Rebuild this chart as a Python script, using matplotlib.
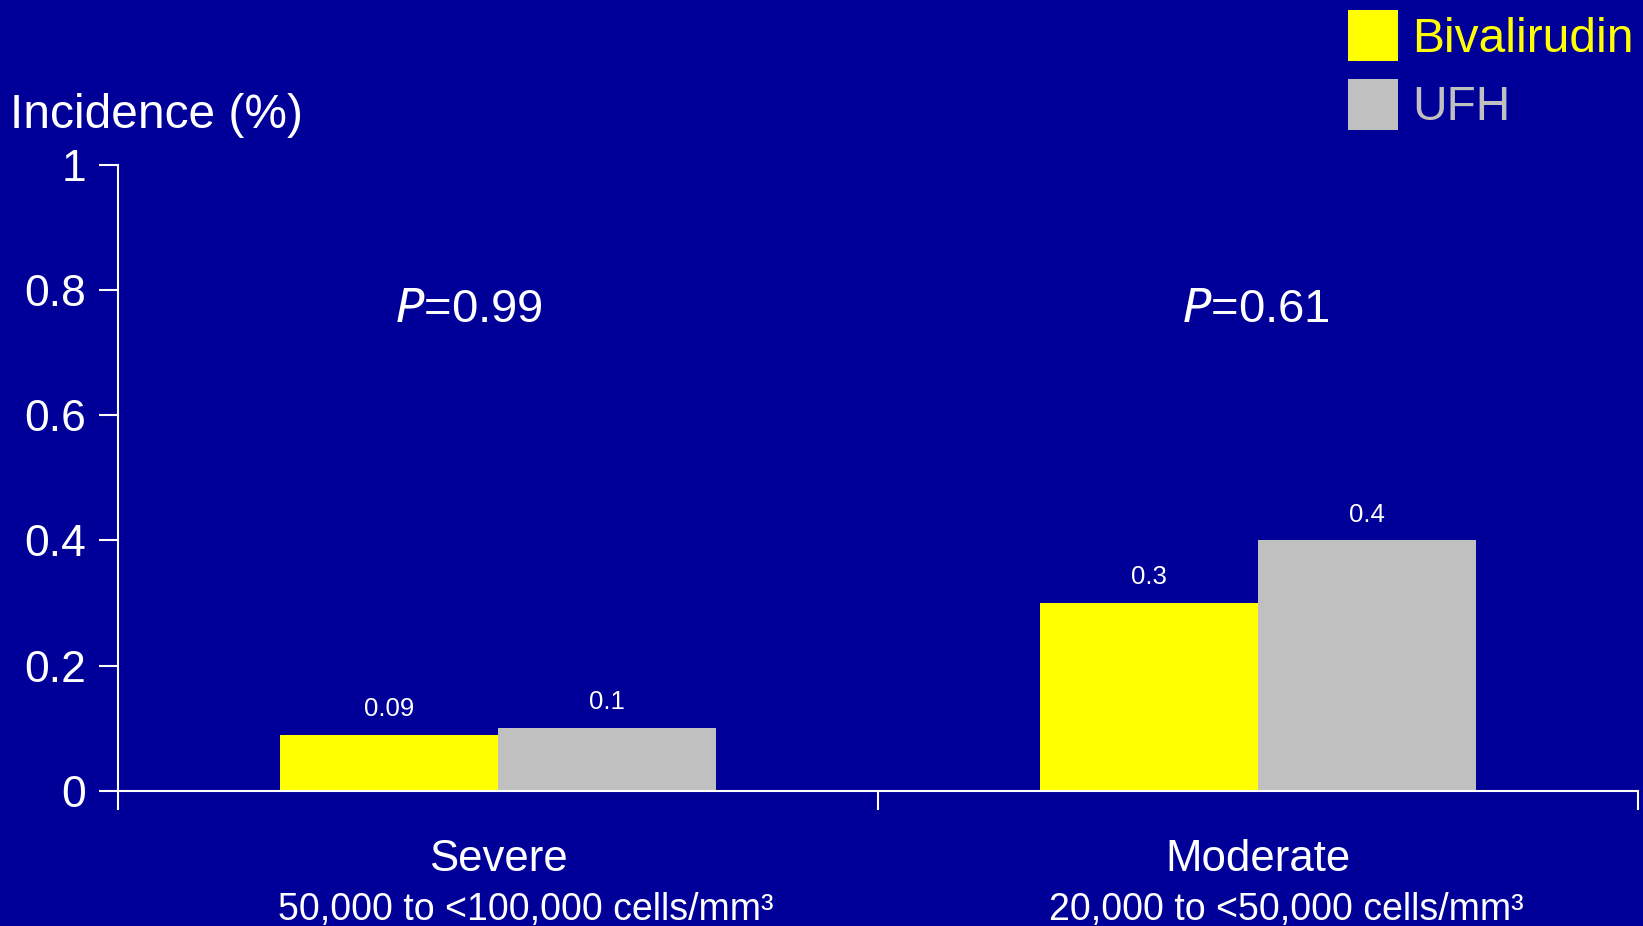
#!/usr/bin/env python

import numpy as np
import matplotlib
matplotlib.use("Agg")
import matplotlib.pyplot as plt

# Data
categories = ["Severe", "Moderate"]
subtitles = ["50,000 to <100,000 cells/mm³", "20,000 to <50,000 cells/mm³"]
bivalirudin = [0.09, 0.3]
ufh = [0.1, 0.4]
p_values = ["0.99", "0.61"]
yticks = [0, 0.2, 0.4, 0.6, 0.8, 1]
ytick_labels = ["0", "0.2", "0.4", "0.6", "0.8", "1"]

# Style
bg = "#000099"
yellow = "#FFFF00"
grey = "#C0C0C0"
plt.rcParams["font.family"] = ["Liberation Sans", "DejaVu Sans"]

fig = plt.figure(figsize=(16.43, 9.26), dpi=100, facecolor=bg)
ax = fig.add_axes([0.0718, 0.1458, 0.925, 0.6765], facecolor=bg)

x = np.arange(len(categories))
w = 0.287
b1 = ax.bar(x - w / 2, bivalirudin, w, color=yellow, label="Bivalirudin", zorder=2)
b2 = ax.bar(x + w / 2, ufh, w, color=grey, label="UFH", zorder=2)

ax.bar_label(b1, labels=[f"{v:g}" for v in bivalirudin], padding=10,
             color="white", fontsize=18.5)
ax.bar_label(b2, labels=[f"{v:g}" for v in ufh], padding=10,
             color="white", fontsize=18.5)

# P values (slightly off-centre as in the original slide)
p_offsets = [-0.038, -0.003]
for xi, off, p in zip(x, p_offsets, p_values):
    ax.text(xi + off, 0.768, r"$\mathit{P}$" + "=" + p, ha="center", va="center",
            color="white", fontsize=34)

ax.set_xlim(-0.5, 1.5)
ax.set_ylim(0, 1)
ax.set_yticks(yticks)
ax.set_yticklabels(ytick_labels)
ax.set_xticks([-0.5, 0.5, 1.5])
ax.set_xticklabels([])
ax.tick_params(axis="y", colors="white", labelsize=32, length=14, width=1.5, pad=9)
ax.tick_params(axis="x", colors="white", length=14, width=1.5)

for s in ["top", "right"]:
    ax.spines[s].set_visible(False)
for s in ["left", "bottom"]:
    ax.spines[s].set_color("white")
    ax.spines[s].set_linewidth(1.5)

# category labels
for xi, c, sub in zip(x, categories, subtitles):
    ax.text(xi, -0.11, c, ha="center", va="center", color="white", fontsize=31.5,
            transform=ax.get_xaxis_transform())
    ax.text(xi + 0.037, -0.19, sub, ha="center", va="center", color="white",
            fontsize=27, transform=ax.get_xaxis_transform())

fig.text(0.006, 0.875, "Incidence (%)", ha="left", va="center", color="white",
         fontsize=34.5)

leg = fig.legend(handles=[b1, b2], loc="upper left", bbox_to_anchor=(0.8204, 0.989),
                 frameon=False, fontsize=34.5, handlelength=1.05, handleheight=1.25,
                 handletextpad=0.3, labelspacing=0.36, borderaxespad=0, borderpad=0)
leg.get_texts()[0].set_color(yellow)
leg.get_texts()[1].set_color(grey)

fig.savefig("out.png", dpi=100, facecolor=bg)
